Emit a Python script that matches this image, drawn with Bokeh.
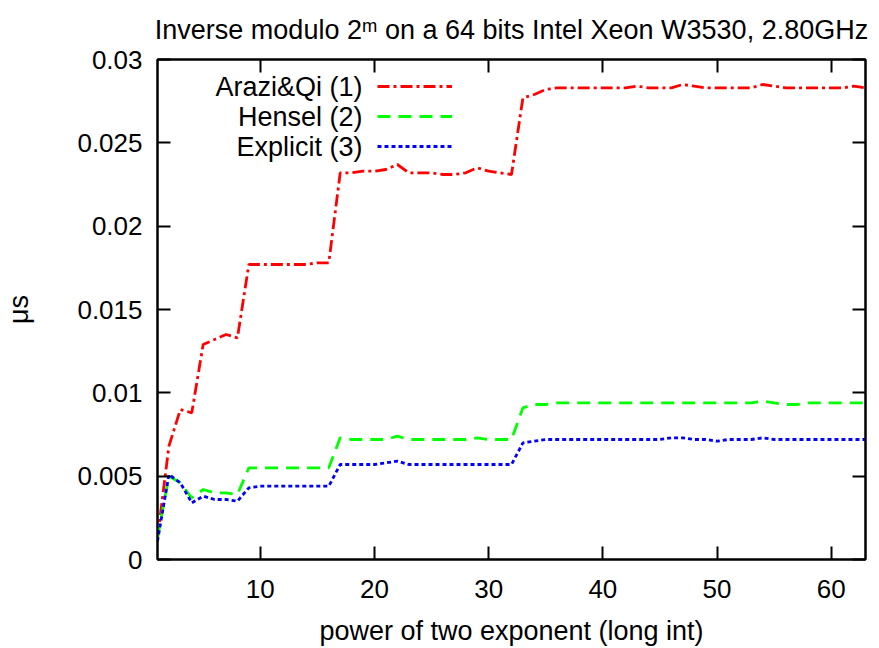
from bokeh.plotting import figure
from bokeh.models import LinearAxis, FixedTicker, Label, Legend, LegendItem, Range1d
from bokeh.embed import file_html
from bokeh.resources import INLINE

# ---- data ----
m = list(range(1, 64))
arazi = [0.0013, 0.0068, 0.0090, 0.0088, 0.0129, 0.0132, 0.0135, 0.0133,
         0.0177, 0.0177, 0.0177, 0.0177, 0.0177, 0.0177, 0.0178, 0.0178,
         0.0232, 0.0232, 0.0233, 0.0233, 0.0234, 0.0237, 0.0232, 0.0232,
         0.0232, 0.0231, 0.0231, 0.0232, 0.0235, 0.0233, 0.0232, 0.0231,
         0.0277, 0.0279, 0.0282, 0.0283, 0.0283, 0.0283, 0.0283, 0.0283,
         0.0283, 0.0283, 0.0284, 0.0283, 0.0283, 0.0283, 0.0285, 0.0284,
         0.0283, 0.0283, 0.0283, 0.0283, 0.0283, 0.0285, 0.0284, 0.0283,
         0.0283, 0.0283, 0.0283, 0.0283, 0.0283, 0.0284, 0.0283]
hensel = [0.0013, 0.0050, 0.0046, 0.0037, 0.0042, 0.0040, 0.0040, 0.0039,
          0.0055, 0.0055, 0.0055, 0.0055, 0.0055, 0.0055, 0.0055, 0.0055,
          0.0073, 0.0072, 0.0072, 0.0072, 0.0072, 0.0074, 0.0072, 0.0072,
          0.0072, 0.0072, 0.0072, 0.0072, 0.0073, 0.0072, 0.0072, 0.0072,
          0.0091, 0.0093, 0.0093, 0.0094, 0.0094, 0.0094, 0.0094, 0.0094,
          0.0094, 0.0094, 0.0094, 0.0094, 0.0094, 0.0094, 0.0094, 0.0094,
          0.0094, 0.0094, 0.0094, 0.0094, 0.0094, 0.0095, 0.0094, 0.0093,
          0.0093, 0.0094, 0.0094, 0.0094, 0.0094, 0.0094, 0.0094]
explicit = [0.0011, 0.0051, 0.0046, 0.0034, 0.0038, 0.0036, 0.0036, 0.0035,
            0.0043, 0.0044, 0.0044, 0.0044, 0.0044, 0.0044, 0.0044, 0.0044,
            0.0057, 0.0057, 0.0057, 0.0057, 0.0058, 0.0059, 0.0057, 0.0057,
            0.0057, 0.0057, 0.0057, 0.0057, 0.0057, 0.0057, 0.0057, 0.0057,
            0.0070, 0.0071, 0.0072, 0.0072, 0.0072, 0.0072, 0.0072, 0.0072,
            0.0072, 0.0072, 0.0072, 0.0072, 0.0072, 0.0073, 0.0073, 0.0072,
            0.0072, 0.0071, 0.0072, 0.0072, 0.0072, 0.0073, 0.0072, 0.0072,
            0.0072, 0.0072, 0.0072, 0.0072, 0.0072, 0.0072, 0.0072]
series_names = ["Arazi&Qi (1)", "Hensel (2)", "Explicit (3)"]
x_ticks = [10, 20, 30, 40, 50, 60]
y_ticks = [0, 0.005, 0.01, 0.015, 0.02, 0.025, 0.03]
y_tick_labels = ["0", "0.005", "0.01", "0.015", "0.02", "0.025", "0.03"]
title_text = "Inverse modulo 2\u1d50 on a 64 bits Intel Xeon W3530, 2.80GHz"
x_label = "power of two exponent (long int)"
y_label = "\u03bcs"

FONT = "Liberation Sans"
FS = "26px"
FS_BIG = "27px"

p = figure(width=879, height=648, output_backend="svg", toolbar_location=None,
           title=title_text,
           x_range=Range1d(1, 63), y_range=Range1d(0, 0.03),
           min_border_left=157, min_border_right=14, min_border_top=59,
           min_border_bottom=88)
p.xgrid.visible = False
p.ygrid.visible = False
p.outline_line_color = "black"
p.outline_line_width = 2
p.background_fill_color = "white"
p.border_fill_color = "white"

p.title.align = "center"
p.title.vertical_align = "top"
p.title.offset = -3
p.title.text_font = FONT
p.title.text_font_size = FS_BIG
p.title.text_font_style = "normal"
p.title.text_color = "black"
p.title.standoff = 26

bottom_axis = p.below[0]
left_axis = p.left[0]
top_axis = LinearAxis()
right_axis = LinearAxis()
p.add_layout(top_axis, "above")
p.add_layout(right_axis, "right")

xt = FixedTicker(ticks=x_ticks)
yt = FixedTicker(ticks=y_ticks)
for ax in [bottom_axis, top_axis]:
    ax.ticker = xt
for ax in [left_axis, right_axis]:
    ax.ticker = yt

for ax in [bottom_axis, left_axis, top_axis, right_axis]:
    ax.major_tick_in = 13
    ax.major_tick_out = 0
    ax.minor_tick_in = 0
    ax.minor_tick_out = 0
    ax.axis_line_width = 2
    ax.axis_line_color = "black"
    ax.major_tick_line_width = 2
    ax.major_tick_line_color = "black"
    ax.major_label_text_font = FONT
    ax.major_label_text_font_size = FS
    ax.major_label_text_color = "black"
    ax.axis_label_text_font = FONT
    ax.axis_label_text_font_size = FS_BIG
    ax.axis_label_text_font_style = "normal"
    ax.axis_label_text_color = "black"

for ax in [top_axis, right_axis]:
    ax.major_label_text_font_size = "0px"
    ax.major_label_standoff = 0
    ax.major_label_text_alpha = 0

left_axis.major_label_overrides = {v: s for v, s in zip(y_ticks, y_tick_labels)}
left_axis.major_label_standoff = 15
left_axis.axis_label = y_label
left_axis.axis_label_standoff = 40
bottom_axis.major_label_standoff = 20
bottom_axis.axis_label = x_label
bottom_axis.axis_label_standoff = 15

r1 = p.line(m, arazi, line_color="#ff0000", line_width=2.8, line_dash="12 4 3 4")
r2 = p.line(m, hensel, line_color="#00ff00", line_width=2.8, line_dash="13 8")
r3 = p.line(m, explicit, line_color="#0000ff", line_width=2.8, line_dash="4 3")

legend = Legend(items=[LegendItem(label=" ", renderers=[r]) for r in (r1, r2, r3)],
                location=(220, 398), glyph_width=75, glyph_height=30,
                label_height=30, label_width=1, spacing=0, padding=0, margin=0,
                label_standoff=0, label_text_font_size="1px",
                border_line_color=None, background_fill_alpha=0)
p.add_layout(legend)

for name, yy in zip(series_names, [473, 443, 413]):
    p.add_layout(Label(x=205, y=yy, x_units="screen", y_units="screen", text=name,
                       text_align="right", text_baseline="middle",
                       text_font=FONT, text_font_size=FS_BIG, text_color="black"))

open("out.html", "w").write(file_html(p, INLINE))
